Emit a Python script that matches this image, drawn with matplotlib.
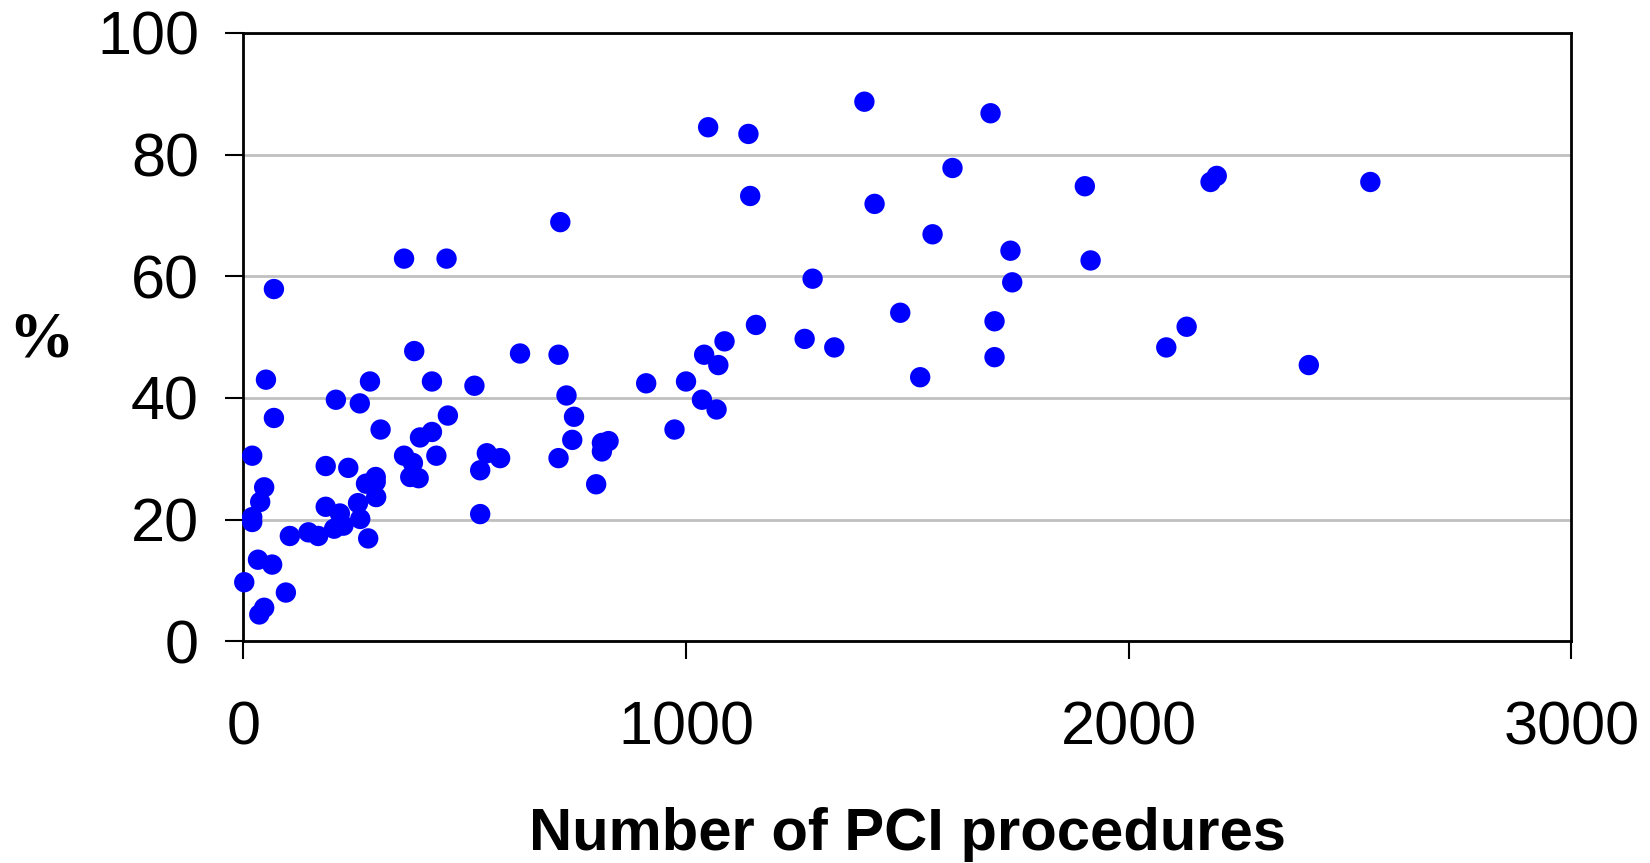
import matplotlib.pyplot as plt

# number of PCI procedures per centre and the matching percentage
procedures = [1403, 1688, 1050, 1141, 1602, 2199, 2185, 2546, 1901, 1145,
              1426, 716, 1557, 1733, 363, 459, 1914, 1286, 1737, 69,
              1484, 1697, 2131, 1158, 1268, 1087, 1335, 2085, 386, 625,
              712, 1041, 1697, 1073, 2407, 1529, 51, 286, 426, 910,
              1000, 522, 209, 730, 1036, 263, 1069, 69, 462, 747,
              974, 310, 743, 399, 426, 810, 825, 810, 20, 363,
              550, 580, 436, 712, 383, 186, 237, 535, 377, 396,
              299, 299, 277, 797, 47, 300, 38, 259, 186, 218,
              535, 20, 264, 20, 226, 205, 147, 169, 105, 282,
              33, 65, 2, 96, 47, 36]
percent = [88.7, 86.8, 84.5, 83.4, 77.8, 76.5, 75.5, 75.5, 74.8, 73.2,
           71.9, 68.9, 66.9, 64.2, 62.9, 62.9, 62.6, 59.6, 59.0, 57.9,
           54.0, 52.6, 51.7, 52.0, 49.7, 49.3, 48.3, 48.3, 47.7, 47.3,
           47.1, 47.1, 46.7, 45.4, 45.4, 43.4, 43.0, 42.7, 42.7, 42.4,
           42.7, 42.0, 39.7, 40.4, 39.7, 39.1, 38.1, 36.7, 37.1, 36.9,
           34.8, 34.8, 33.1, 33.5, 34.4, 32.6, 32.9, 31.2, 30.5, 30.5,
           30.9, 30.1, 30.5, 30.1, 29.3, 28.8, 28.5, 28.1, 27.0, 26.8,
           27.0, 26.2, 25.9, 25.8, 25.3, 23.7, 22.9, 22.7, 22.1, 21.0,
           20.9, 20.4, 20.1, 19.6, 19.0, 18.5, 17.9, 17.3, 17.3, 16.9,
           13.4, 12.6, 9.7, 8.0, 5.5, 4.4]

x_ticks = [0, 1000, 2000, 3000]
y_ticks = [0, 20, 40, 60, 80, 100]

plt.rcParams['font.family'] = ['Liberation Sans', 'DejaVu Sans']

fig = plt.figure(figsize=(16.5, 8.63), dpi=100)
ax = fig.add_axes([0.1475, 0.257, 0.8048, 0.7048])

# grey horizontal gridlines behind the points
ax.set_axisbelow(True)
ax.yaxis.grid(True, color='#c0c0c0', linewidth=2)

ax.scatter(procedures, percent, s=215, color='#0000ff', edgecolors='none',
           zorder=3, clip_on=False)

ax.set_xlim(0, 3000)
ax.set_ylim(0, 100)
ax.set_xticks(x_ticks)
ax.set_yticks(y_ticks)
ax.tick_params(axis='both', direction='out', length=13, width=1.5,
               labelsize=44, colors='black')
ax.tick_params(axis='x', pad=30)
ax.tick_params(axis='y', pad=19)

for side in ['left', 'bottom', 'top', 'right']:
    ax.spines[side].set_linewidth(2)
    ax.spines[side].set_color('black')

ax.set_xlabel('Number of PCI procedures', fontsize=43, fontweight='bold',
              labelpad=35)
fig.text(0.025, 0.605, '%', fontsize=47, fontweight='bold',
         family='Liberation Serif', ha='center', va='center')

fig.savefig('out.png', dpi=100, facecolor='white')
